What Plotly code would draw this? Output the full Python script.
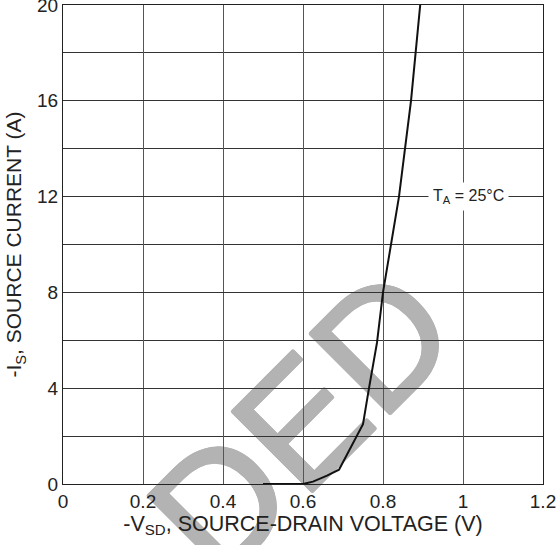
import plotly.graph_objects as go

# Data
vsd = [0.50, 0.60, 0.625, 0.66, 0.69, 0.715, 0.75, 0.765, 0.785, 0.80, 0.82, 0.84, 0.855, 0.87, 0.893]
i_s = [0.0, 0.0, 0.1, 0.35, 0.6, 1.4, 2.5, 4.0, 5.9, 8.0, 10.0, 12.0, 14.0, 16.0, 20.0]

x_tickvals = [0, 0.2, 0.4, 0.6, 0.8, 1.0, 1.2]
x_ticktext = ["0", "0.2", "0.4", "0.6", "0.8", "1", "1.2"]
y_tickvals = [0, 4, 8, 12, 16, 20]
y_ticktext = ["0", "4", "8", "12", "16", "20"]

FONT = "Liberation Sans, Arial, Helvetica, sans-serif"
WM = "#b3b3b3"

fig = go.Figure()
fig.add_trace(go.Scatter(x=vsd, y=i_s, mode="lines",
                         line=dict(color="#111111", width=2), showlegend=False,
                         hoverinfo="skip"))

fig.add_annotation(x=1.0125, y=12, xref="x", yref="y",
                   text="T<sub>A</sub> = 25°C", showarrow=False,
                   font=dict(family=FONT, size=16, color="#222222"),
                   bgcolor="white", borderpad=4)

# watermark (below grid)
shadow = ", ".join(f"{dx}px {dy}px 0 {WM}" for dx, dy in
                   [(1.5, 0), (-1.5, 0), (0, 1.5), (0, -1.5), (1, 1), (-1, -1), (1, -1), (-1, 1)])
fig.add_shape(type="rect", xref="paper", yref="paper",
              x0=0.468, x1=0.478, y0=0.148, y1=0.158,
              line=dict(width=0), fillcolor="rgba(0,0,0,0)", layer="below",
              label=dict(text="DED", textangle=-45, textposition="middle center",
                         font=dict(family=FONT, size=165, color=WM, shadow=shadow)))

fig.update_xaxes(range=[0, 1.2], tickvals=x_tickvals, ticktext=x_ticktext,
                 showgrid=True, gridcolor="#555555", gridwidth=1,
                 showline=True, linecolor="#222222", linewidth=1, mirror=True,
                 ticks="", zeroline=False, ticklabeloverflow="allow",
                 tickfont=dict(family=FONT, size=19, color="#222222"),
                 title=dict(text="-V<sub>SD</sub>, SOURCE-DRAIN VOLTAGE (V)",
                            font=dict(family=FONT, size=21.5, color="#222222"), standoff=2))
fig.update_yaxes(range=[0, 20], tickvals=y_tickvals, ticktext=y_ticktext,
                 showgrid=True, gridcolor="#333333", gridwidth=1,
                 minor=dict(dtick=2, tick0=0, showgrid=True, gridcolor="#333333", gridwidth=1),
                 showline=True, linecolor="#222222", linewidth=1, mirror=True,
                 ticks="", zeroline=False, ticklabeloverflow="allow",
                 tickfont=dict(family=FONT, size=19, color="#222222"),
                 title=dict(text="-I<sub>S</sub>, SOURCE CURRENT (A)",
                            font=dict(family=FONT, size=21, color="#222222"), standoff=9))

fig.update_layout(width=556, height=545,
                  margin=dict(l=63, r=13, t=5, b=61, autoexpand=False),
                  paper_bgcolor="white", plot_bgcolor="rgba(0,0,0,0)",
                  font=dict(family=FONT))

fig.write_html("out.html")
